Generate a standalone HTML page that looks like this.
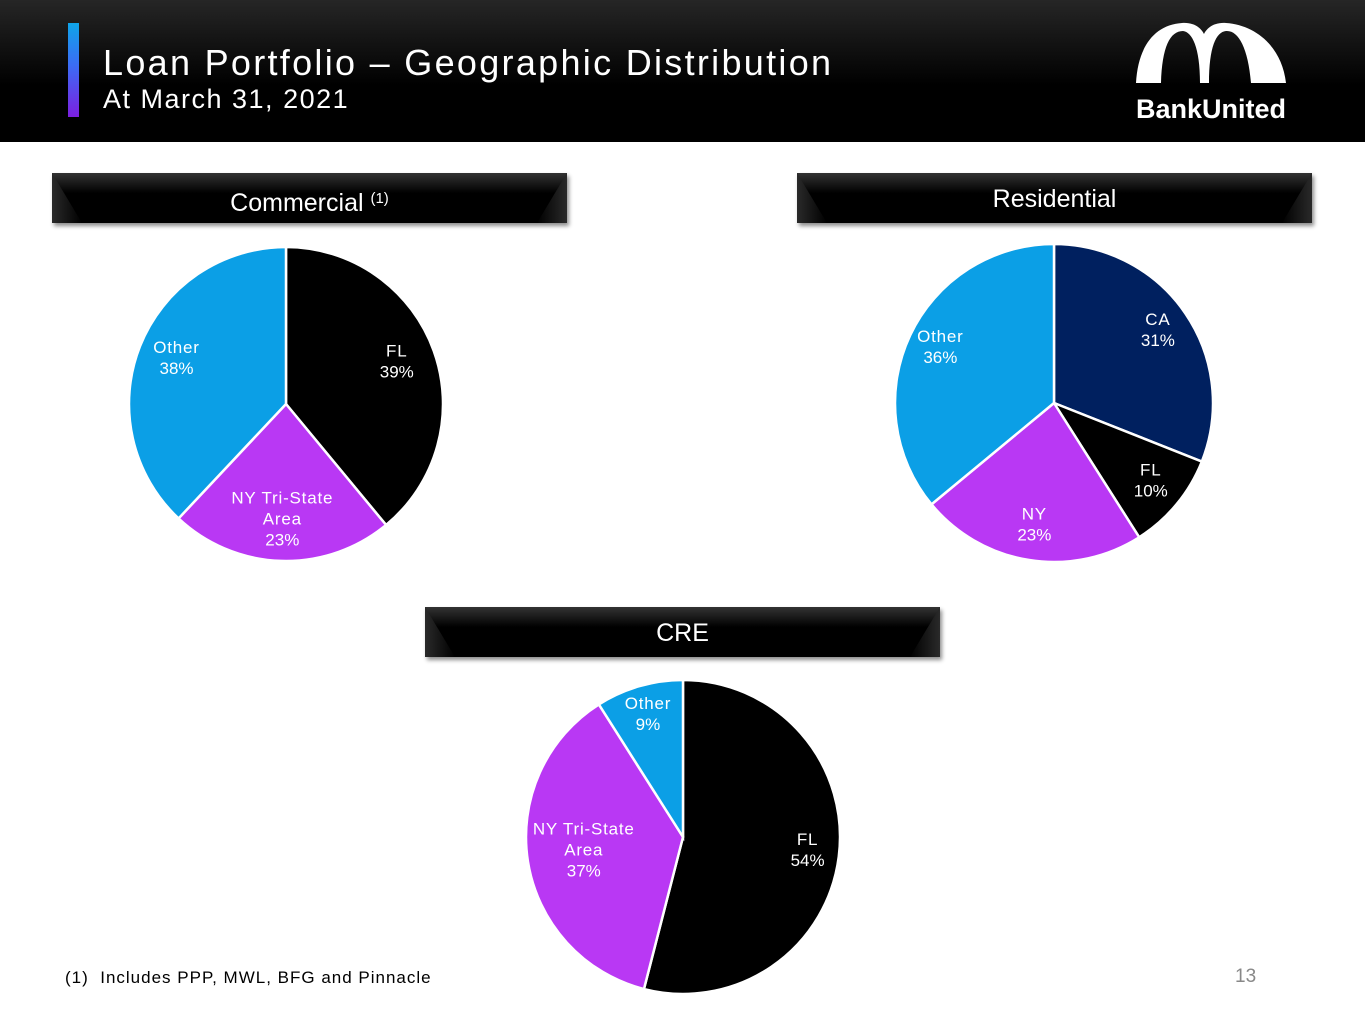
<!DOCTYPE html>
<html><head><meta charset="utf-8"><style>
body{margin:0;width:1365px;height:1024px;position:relative;background:#fff;font-family:"Liberation Sans",sans-serif;overflow:hidden}
#hdr{position:absolute;left:0;top:0;width:1365px;height:142px;background:linear-gradient(#262626,#000 60%)}
#bar{position:absolute;left:68px;top:23px;width:11px;height:94px;background:linear-gradient(#0ea5e9,#3b6cf5 45%,#7c1fe0)}
#t1{position:absolute;left:103px;top:42px;color:#fff;font-size:36px;letter-spacing:2.3px}
#t2{position:absolute;left:103px;top:84px;color:#fff;font-size:27px;letter-spacing:1.5px}
.box{position:absolute;width:515px;height:50px;background:linear-gradient(#333,#000 40%,#000);box-shadow:2px 3px 4px rgba(0,0,0,.45);color:#fff;font-size:25px;text-align:center;line-height:52px}
.box:before,.box:after{content:"";position:absolute;top:0;width:30px;height:50px;background:linear-gradient(90deg,#2a2a2a,#000)}
.box:before{left:0;clip-path:polygon(0 0,100% 100%,0 100%)}
.box:after{right:0;transform:scaleX(-1);clip-path:polygon(0 0,100% 100%,0 100%)}
.box span{position:relative;z-index:1}
sup{font-size:15px;vertical-align:8px}
#foot{position:absolute;left:65px;top:968px;font-size:17px;letter-spacing:1px}
#pg{position:absolute;left:1235px;top:966px;font-size:19px;color:#888}
</style></head><body>
<div id="hdr">
<div id="bar"></div>
<div id="t1">Loan Portfolio – Geographic Distribution</div>
<div id="t2">At March 31, 2021</div>
<svg style="position:absolute;left:1134px;top:22px" width="154" height="100">
<path d="M2 61 C4 25 20 3 48 1 C62 0 68 8 70 12 C72 8 78 0 92 1 C122 3 148 25 152 61 L117 61 C114 25 104 8 92 9 C82 10 75 25 75 61 L66 61 C66 25 58 10 49 9 C36 9 28 25 27 61 Z" fill="#fff"/>
<text x="2" y="96" fill="#fff" font-size="27" font-weight="bold" textLength="150" lengthAdjust="spacingAndGlyphs" font-family="Liberation Sans, sans-serif">BankUnited</text>
</svg>
</div>
<div class="box" style="left:52px;top:173px"><span>Commercial <sup>(1)</sup></span></div>
<div class="box" style="left:797px;top:173px"><span>Residential</span></div>
<div class="box" style="left:425px;top:607px"><span>CRE</span></div>
<svg id="pies" style="position:absolute;left:0;top:0" width="1365" height="1024"></svg>
<div id="foot">(1)&nbsp; Includes PPP, MWL, BFG and Pinnacle</div>
<div id="pg">13</div>
<script>
const comLabels=["FL","NY Tri-State|Area","Other"];
const comValues=[39,23,38];
const resLabels=["CA","FL","NY","Other"];
const resValues=[31,10,23,36];
const creLabels=["FL","NY Tri-State|Area","Other"];
const creValues=[54,37,9];
const colors={"FL":"#000","CA":"#00205f","NY":"#b938f4","NY Tri-State|Area":"#b938f4","Other":"#0b9fe6"};
const NS="http://www.w3.org/2000/svg";
const svg=document.getElementById('pies');
function pie(name,cx,cy,r,labels,values,lf,over){
  const tot=values.reduce((a,b)=>a+b,0);let acc=0;
  labels.forEach((lab,i)=>{
    const a0=acc/tot*2*Math.PI;acc+=values[i];const a1=acc/tot*2*Math.PI;
    const p=a=>[cx+r*Math.sin(a),cy-r*Math.cos(a)];
    const [x0,y0]=p(a0),[x1,y1]=p(a1);
    const path=document.createElementNS(NS,'path');
    path.setAttribute('d',`M${cx},${cy}L${x0},${y0}A${r},${r} 0 ${a1-a0>Math.PI?1:0} 1 ${x1},${y1}Z`);
    path.setAttribute('fill',colors[lab]);path.setAttribute('stroke','#fff');path.setAttribute('stroke-width','2.5');
    
    
    svg.appendChild(path);
    const am=(a0+a1)/2;const f=(over&&over[i])||lf;
    const lx=cx+r*f*Math.sin(am),ly=cy-r*f*Math.cos(am);
    const lines=lab.split('|').concat([values[i]+'%']);
    const t=document.createElementNS(NS,'text');
    
    
    t.setAttribute('text-anchor','middle');t.setAttribute('fill','#fff');t.setAttribute('font-size','17');
    t.setAttribute('font-family','Liberation Sans, sans-serif');
    const y0l=ly-(lines.length-1)*21/2+3;
    lines.forEach((s,k)=>{const ts=document.createElementNS(NS,'tspan');ts.setAttribute('x',lx);ts.setAttribute('y',y0l+k*21);ts.textContent=s;if(k<lines.length-1)ts.setAttribute('letter-spacing','0.8');t.appendChild(ts);});
    svg.appendChild(t);
  });
}
pie('commercial',286,404,157,comLabels,comValues,0.75);
pie('residential',1054,403,159,resLabels,resValues,0.79);
pie('cre',683,837,157,creLabels,creValues,0.8,[0,0.64,0]);
</script>
</body></html>
